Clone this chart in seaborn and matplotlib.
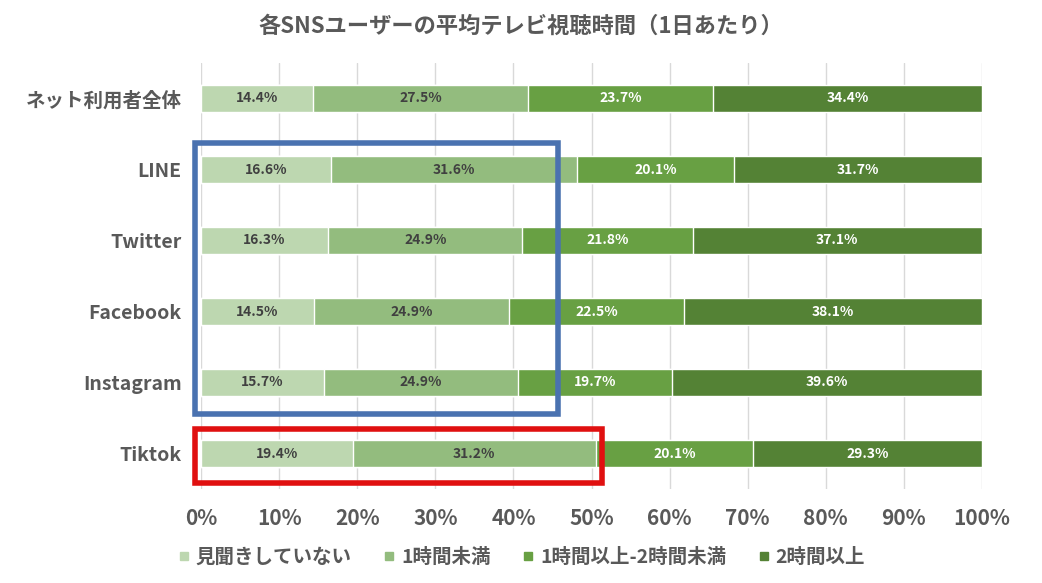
import matplotlib
matplotlib.use("Agg")
import matplotlib.pyplot as plt
import numpy as np
import pandas as pd
import seaborn as sns
from matplotlib.patches import Rectangle
from matplotlib.lines import Line2D

categories = ["ネット利用者全体", "LINE", "Twitter", "Facebook", "Instagram", "Tiktok"]
series_names = ["見聞きしていない", "1時間未満", "1時間以上-2時間未満", "2時間以上"]
none_vals = [14.4, 16.6, 16.3, 14.5, 15.7, 19.4]
under1_vals = [27.5, 31.6, 24.9, 24.9, 24.9, 31.2]
one_two_vals = [23.7, 20.1, 21.8, 22.5, 19.7, 20.1]
over2_vals = [34.4, 31.7, 37.1, 38.1, 39.6, 29.3]
tick_vals = [0, 10, 20, 30, 40, 50, 60, 70, 80, 90, 100]

colors = ["#bdd7b0", "#93bc7e", "#68a043", "#548235"]
text_colors = ["#404040", "#404040", "white", "white"]
gray = "#595959"

sns.set_theme(style="white")
plt.rcParams["font.family"] = ["Noto Sans CJK JP", "DejaVu Sans"]

values = np.array([none_vals, under1_vals, one_two_vals, over2_vals]).T
shares = values / values.sum(axis=1, keepdims=True) * 100
cum = np.cumsum(shares, axis=1)

fig = plt.figure(figsize=(10.42, 5.83), dpi=100)
ax = fig.add_axes([201 / 1042, 1 - 489 / 583, 781 / 1042, 426 / 583])

# stacked bars: draw the cumulative totals from the longest to the shortest
for j in range(3, -1, -1):
    df = pd.DataFrame({"cat": categories, "val": cum[:, j]})
    sns.barplot(data=df, x="val", y="cat", orient="h", color=colors[j],
                width=0.39, saturation=1, ax=ax, zorder=2)

for i in range(len(categories)):
    for j in range(4):
        left = cum[i, j] - shares[i, j]
        ax.text(left + shares[i, j] / 2, i, f"{values[i, j]:.1f}%", ha="center", va="center",
                fontsize=10, fontweight="bold", color=text_colors[j], zorder=3)

ax.set_xlim(0, 100)
ax.set_ylim(5.5, -0.5)
ax.set_xticks(tick_vals)
ax.set_xticklabels([f"{t}%" for t in tick_vals])
ax.xaxis.grid(True, color="#d9d9d9", linewidth=1, zorder=0)
ax.set_axisbelow(True)
for s in ax.spines.values():
    s.set_visible(False)
ax.set_xlabel("")
ax.set_ylabel("")
ax.tick_params(axis="x", labelsize=15, colors=gray, pad=14, length=0)
ax.tick_params(axis="y", labelsize=14, colors=gray, pad=14, length=0)
for lab in ax.get_xticklabels() + ax.get_yticklabels():
    lab.set_fontweight("bold")

# highlight boxes
ax.add_patch(Rectangle((-0.77, 0.63), 46.5, 3.81, fill=False, edgecolor="#4a72b0",
                       linewidth=4, clip_on=False, zorder=4))
ax.add_patch(Rectangle((-0.77, 4.66), 52.1, 0.76, fill=False, edgecolor="#e01010",
                       linewidth=4, clip_on=False, zorder=4))

fig.suptitle("各SNSユーザーの平均テレビ視聴時間（1日あたり）", x=0.5, y=0.975,
             fontsize=16, fontweight="bold", color=gray)

handles = [Line2D([0], [0], marker="s", linestyle="", markersize=6, color=c) for c in colors]
leg = fig.legend(handles, series_names, loc="center", bbox_to_anchor=(0.5, 1 - 557 / 583),
                 ncol=4, frameon=False, handlelength=0.7, handletextpad=0.25, columnspacing=1.6,
                 prop={"size": 14, "weight": "bold"})
for t in leg.get_texts():
    t.set_color(gray)

fig.savefig("out.png", dpi=100)
